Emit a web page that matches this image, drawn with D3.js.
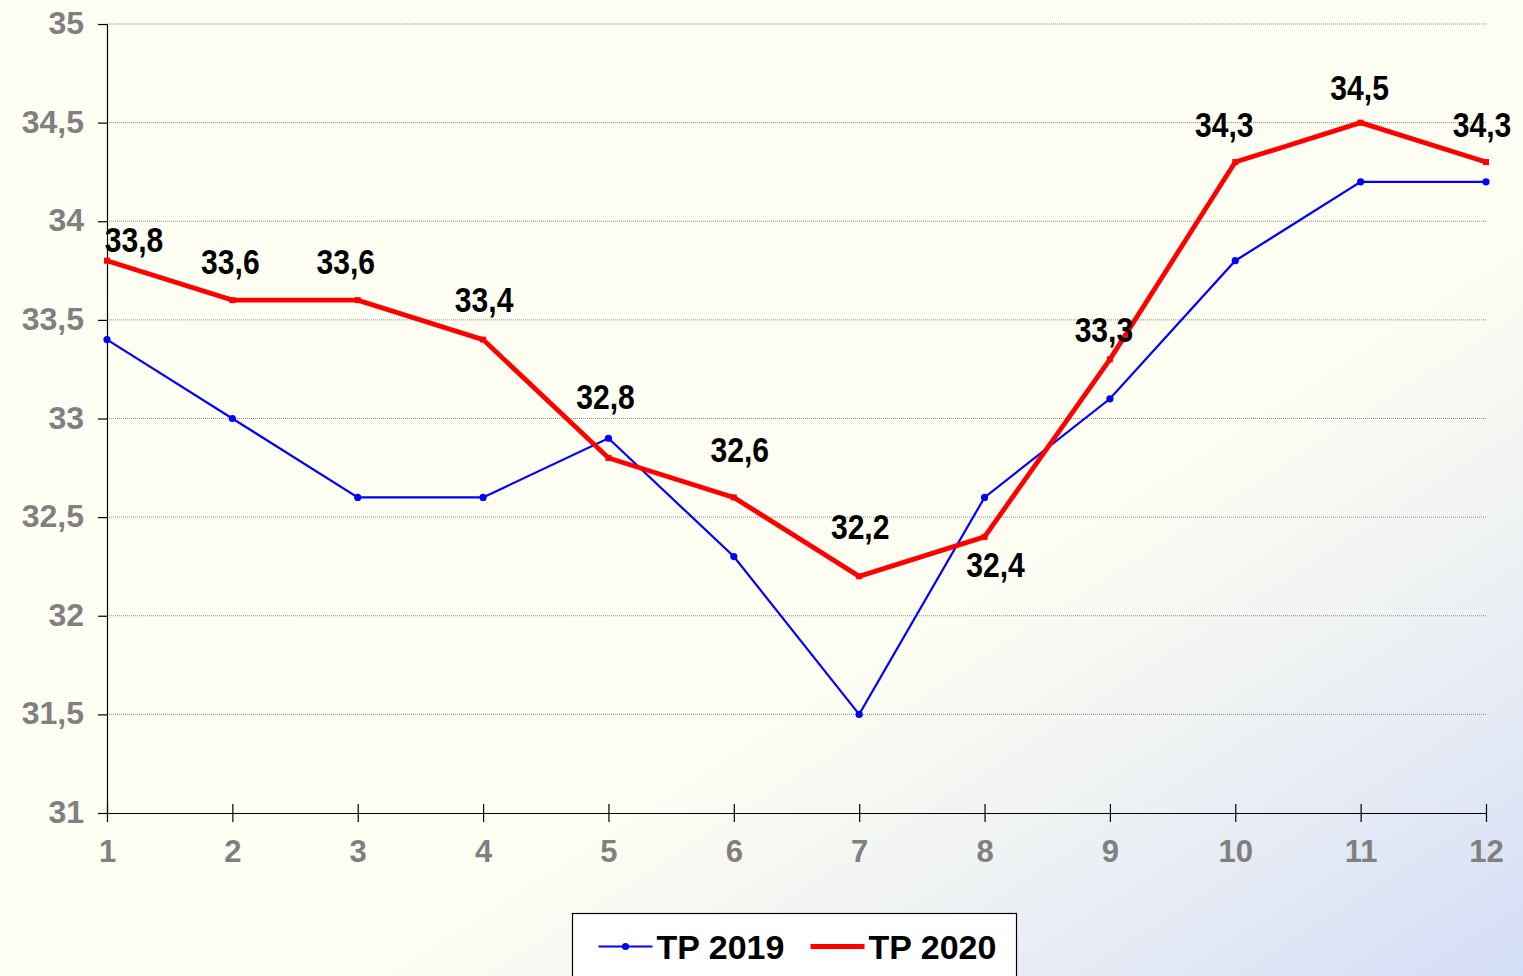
<!DOCTYPE html>
<html>
<head>
<meta charset="utf-8">
<script src="https://cdn.jsdelivr.net/npm/d3@7"></script>
<style>
  html, body { margin: 0; padding: 0; overflow: hidden; }
  svg { display: block; }
</style>
</head>
<body>
<div id="chart"></div>
<script>
// months and values
var months = [1, 2, 3, 4, 5, 6, 7, 8, 9, 10, 11, 12];
var tp2019 = [33.4, 33.0, 32.6, 32.6, 32.9, 32.3, 31.5, 32.6, 33.1, 33.8, 34.2, 34.2];
var tp2020 = [33.8, 33.6, 33.6, 33.4, 32.8, 32.6, 32.2, 32.4, 33.3, 34.3, 34.5, 34.3];
var yTicks = [31, 31.5, 32, 32.5, 33, 33.5, 34, 34.5, 35];
var seriesNames = ["TP 2019", "TP 2020"];

// label nudges (px) for the 2020 data labels, like the hand-placed excel labels
var labelDx = [27, -2, -12, 1, -3, 6, 1, 11, -6, -11, -1, -4];
var labelDy = [-21, -39, -39, -40, -62, -48, -50, 28, -30, -38, -35, -38];

var width = 1523, height = 976;
var margin = {top: 24, right: 37, bottom: 163, left: 107};
var w = width - margin.left - margin.right,
    h = height - margin.top - margin.bottom;

var svg = d3.select("#chart").append("svg")
    .attr("width", width)
    .attr("height", height);

// background: cream with a light blue corner bottom right
var defs = svg.append("defs");
var grad = defs.append("linearGradient")
    .attr("id", "bg")
    .attr("x1", "0%").attr("y1", "0%")
    .attr("x2", "100%").attr("y2", "100%");
grad.append("stop").attr("offset", "0%").attr("stop-color", "#fffff3");
grad.append("stop").attr("offset", "62%").attr("stop-color", "#fdfdf2");
grad.append("stop").attr("offset", "78%").attr("stop-color", "#eef1f3");
grad.append("stop").attr("offset", "100%").attr("stop-color", "#d3ddf7");

svg.append("rect")
    .attr("width", width)
    .attr("height", height)
    .attr("fill", "url(#bg)");

var g = svg.append("g")
    .attr("transform", "translate(" + margin.left + "," + margin.top + ")");

var x = d3.scaleLinear()
    .domain([1, 12])
    .range([0, w]);

var y = d3.scaleLinear()
    .domain([31, 35])
    .range([h, 0]);

var fmt = function(d) { return String(d).replace(".", ","); };

// Horizontal grid
g.append("g")
    .attr("class", "grid")
    .selectAll("line")
    .data(yTicks.slice(1))
  .enter().append("line")
    .attr("x1", 0)
    .attr("x2", w)
    .attr("y1", function(d) { return y(d); })
    .attr("y2", function(d) { return y(d); })
    .attr("stroke", "#8c8c8c")
    .attr("stroke-width", 1)
    .attr("stroke-dasharray", "1,1");

// y axis
var yAxis = d3.axisLeft(y)
    .tickValues(yTicks)
    .tickSize(9)
    .tickPadding(14)
    .tickFormat(fmt);

var yg = g.append("g")
    .attr("class", "y axis")
    .call(yAxis);
yg.select(".domain").attr("stroke", "#000").attr("stroke-width", 1.2);
yg.selectAll(".tick line").attr("stroke", "#000").attr("stroke-width", 1.2);
yg.selectAll(".tick text")
    .attr("fill", "#808080")
    .style("font-family", "Arial, 'Liberation Sans', sans-serif")
    .style("font-weight", "bold")
    .style("font-size", "32px")
    .attr("dy", "0.3em");

// x axis, ticks cross the line
var xAxis = d3.axisBottom(x)
    .tickValues(months)
    .tickSizeInner(9)
    .tickSizeOuter(0)
    .tickPadding(18)
    .tickFormat(d3.format("d"));

var xg = g.append("g")
    .attr("class", "x axis")
    .attr("transform", "translate(0," + h + ")")
    .call(xAxis);
xg.select(".domain").attr("stroke", "#000").attr("stroke-width", 1.2);
xg.selectAll(".tick line")
    .attr("y1", -9)
    .attr("stroke", "#000").attr("stroke-width", 1.2);
xg.selectAll(".tick text")
    .attr("fill", "#808080")
    .style("font-family", "Arial, 'Liberation Sans', sans-serif")
    .style("font-weight", "bold")
    .style("font-size", "31px");

var line = d3.line()
    .x(function(d, i) { return x(months[i]); })
    .y(function(d) { return y(d); });

// TP 2019 - thin blue line with dots
g.append("path")
    .datum(tp2019)
    .attr("fill", "none")
    .attr("stroke", "#0000ff")
    .attr("stroke-width", 2.2)
    .attr("d", line);

g.selectAll(".dot19")
    .data(tp2019)
  .enter().append("circle")
    .attr("class", "dot19")
    .attr("cx", function(d, i) { return x(months[i]); })
    .attr("cy", function(d) { return y(d); })
    .attr("r", 3.6)
    .attr("fill", "#0000ff");

// TP 2020 - thick red line
g.append("path")
    .datum(tp2020)
    .attr("fill", "none")
    .attr("stroke", "#ff0000")
    .attr("stroke-width", 4.8)
    .attr("stroke-linejoin", "miter")
    .attr("d", line);

g.selectAll(".dot20")
    .data(tp2020)
  .enter().append("rect")
    .attr("class", "dot20")
    .attr("x", function(d, i) { return x(months[i]) - 3; })
    .attr("y", function(d) { return y(d) - 3; })
    .attr("width", 6)
    .attr("height", 6)
    .attr("fill", "#ff0000");

// data labels for 2020 (narrow bold, squeezed arial since no arial narrow here)
g.selectAll(".lbl")
    .data(tp2020)
  .enter().append("g")
    .attr("class", "lbl")
    .attr("transform", function(d, i) {
        return "translate(" + (x(months[i]) + labelDx[i]) + "," + (y(d) + labelDy[i]) + ") scale(0.86,1)";
    })
  .append("text")
    .attr("text-anchor", "middle")
    .attr("dy", "0.36em")
    .style("font-family", "Arial, 'Liberation Sans', sans-serif")
    .style("font-weight", "bold")
    .style("font-size", "35px")
    .attr("fill", "#000")
    .text(fmt);

// legend
var legend = svg.append("g")
    .attr("transform", "translate(572.5,913.5)");

legend.append("rect")
    .attr("width", 444)
    .attr("height", 80)
    .attr("fill", "#fff")
    .attr("stroke", "#000")
    .attr("stroke-width", 1.2);

var legColors = ["#0000ff", "#ff0000"];
var legWidths = [2.2, 4.8];
var legX = [26, 238];

seriesNames.forEach(function(name, i) {
    var lg = legend.append("g")
        .attr("transform", "translate(" + legX[i] + ",33)");
    lg.append("line")
        .attr("x1", 0).attr("x2", 54)
        .attr("stroke", legColors[i])
        .attr("stroke-width", legWidths[i]);
    if (i === 0) {
        lg.append("circle").attr("cx", 27).attr("r", 3.6).attr("fill", legColors[i]);
    }
    lg.append("text")
        .attr("x", 58)
        .attr("dy", "0.36em")
        .style("font-family", "Arial, 'Liberation Sans', sans-serif")
        .style("font-weight", "bold")
        .style("font-size", "34px")
        .attr("fill", "#000")
        .text(name);
});
</script>
</body>
</html>
